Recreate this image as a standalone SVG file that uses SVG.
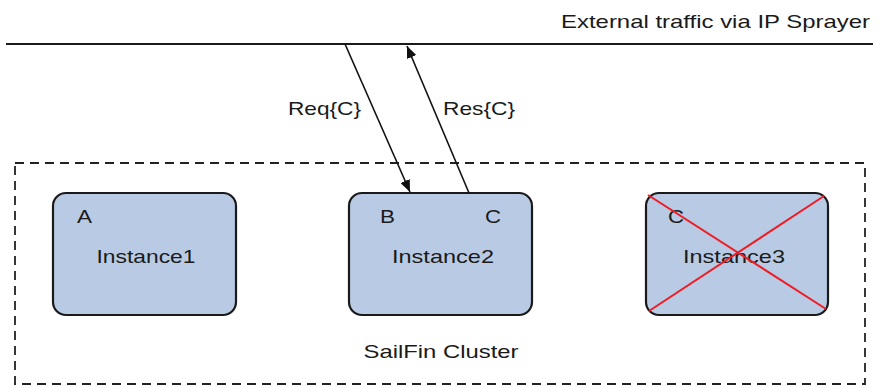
<svg xmlns="http://www.w3.org/2000/svg" width="884" height="388" viewBox="0 0 884 388">
<defs>
<style>
text{font-family:"Liberation Sans",Arial,sans-serif;font-size:19px;fill:#1a1a1a;}
.box{fill:#b9cbe4;stroke:#1a1a1a;stroke-width:2.2;}
.conn{stroke:#111;stroke-width:1.6;fill:none;}
.cross{stroke:#ee1c24;stroke-width:2;}
</style>
<marker id="arr" viewBox="0 0 12 10" refX="12" refY="5" markerWidth="12" markerHeight="10" markerUnits="userSpaceOnUse" orient="auto">
<path d="M0,0 L12,5 L0,10 z" fill="#111"/>
</marker>
</defs>
<rect width="884" height="388" fill="#fff"/>
<g id="external">
<line x1="6" y1="44" x2="873" y2="44" stroke="#1a1a1a" stroke-width="2"/>
<text x="870" y="28" text-anchor="end" textLength="309" lengthAdjust="spacingAndGlyphs">External traffic via IP Sprayer</text>
</g>
<g id="cluster">
<rect x="15" y="163" width="850" height="221" fill="none" stroke="#222" stroke-width="1.8" stroke-dasharray="9,6"/>
<text x="441" y="358" text-anchor="middle" textLength="155" lengthAdjust="spacingAndGlyphs">SailFin Cluster</text>
</g>
<g id="instance1">
<rect class="box" x="53" y="193" width="183" height="122" rx="13"/>
<text x="77" y="223" textLength="15" lengthAdjust="spacingAndGlyphs">A</text>
<text x="146" y="263" text-anchor="middle" textLength="99" lengthAdjust="spacingAndGlyphs">Instance1</text>
</g>
<g id="instance2">
<rect class="box" x="349" y="193" width="183" height="122" rx="13"/>
<text x="380" y="223" textLength="15" lengthAdjust="spacingAndGlyphs">B</text>
<text x="485" y="223" textLength="16" lengthAdjust="spacingAndGlyphs">C</text>
<text x="443" y="263" text-anchor="middle" textLength="102" lengthAdjust="spacingAndGlyphs">Instance2</text>
</g>
<g id="instance3">
<rect class="box" x="646" y="193" width="182" height="122" rx="13"/>
<text x="668" y="223" textLength="16" lengthAdjust="spacingAndGlyphs">C</text>
<text x="734" y="263" text-anchor="middle" textLength="102" lengthAdjust="spacingAndGlyphs">Instance3</text>
<line class="cross" x1="648" y1="195" x2="826" y2="309"/>
<line class="cross" x1="824" y1="196" x2="649" y2="311"/>
</g>
<g id="connectors">
<line class="conn" x1="345" y1="44" x2="410" y2="192" marker-end="url(#arr)"/>
<line class="conn" x1="469" y1="193" x2="407" y2="46" marker-end="url(#arr)"/>
<text x="361" y="115" text-anchor="end" textLength="73" lengthAdjust="spacingAndGlyphs">Req{C}</text>
<text x="443" y="115" textLength="72" lengthAdjust="spacingAndGlyphs">Res{C}</text>
</g>
</svg>
